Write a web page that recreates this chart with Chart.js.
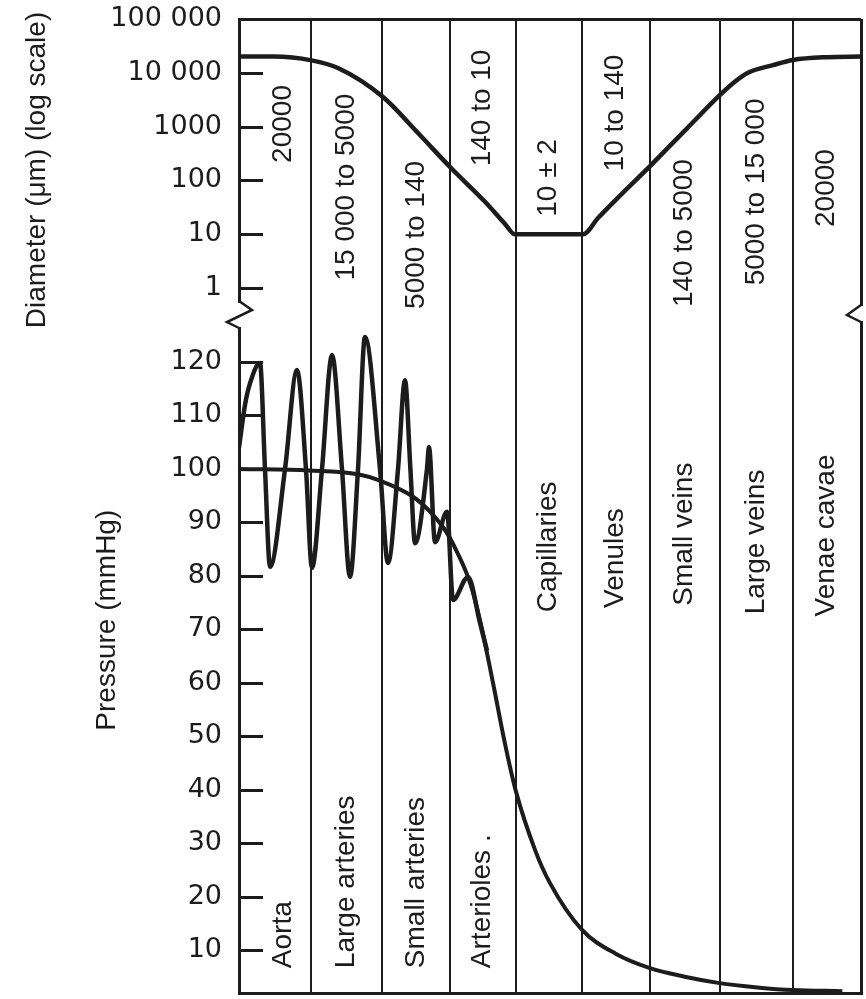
<!DOCTYPE html>
<html>
<head>
<meta charset="utf-8">
<script src="https://cdn.jsdelivr.net/npm/chart.js@4.4.1/dist/chart.umd.min.js"></script>
<style>
  html, body { margin: 0; padding: 0; background: #ffffff; }
  canvas { display: block; }
</style>
</head>
<body>
<canvas id="c" width="866" height="999"></canvas>
<script>
// ---------- data ----------
const vessels = ['Aorta', 'Large arteries', 'Small arteries', 'Arterioles .', 'Capillaries', 'Venules', 'Small veins', 'Large veins', 'Venae cavae'];
const vesselBounds = [0, 1.042, 2.069, 3.053, 4.001, 4.956, 5.947, 6.953, 8.009, 9];
const diameterRanges = ['20000', '15 000 to 5000', '5000 to 140', '140 to 10', '10 ± 2', '10 to 140', '140 to 5000', '5000 to 15 000', '20000'];

const diameterX  = [0, 0.5, 1.05, 1.432, 2.084, 2.590, 3.068, 3.560, 3.849, 3.990, 4.978, 5.195, 5.484, 5.962, 6.497, 6.960, 7.148, 7.365, 7.727, 8.016, 8.5, 9];
const diameterUm = [20000, 20000, 17000, 12300, 3550, 760, 170, 40, 15.5, 10, 10, 20, 48, 193, 970, 3870, 6400, 10000, 13900, 17300, 19500, 20000];

const meanX     = [0, 1.013, 1.722, 2.040, 2.518, 2.764, 3.010, 3.154, 3.343, 3.487, 3.675, 3.85, 4.0, 4.29, 4.5, 4.96, 5.45, 5.947, 6.45, 6.953, 7.5, 8.009, 8.73];
const meanMmHg  = [100, 99.7, 99, 97.8, 94.8, 92, 88, 84.5, 78.7, 71.7, 60, 48.5, 40, 28.5, 22.5, 13.8, 9.3, 6.6, 5.0, 3.8, 3.0, 2.5, 2.3];

const pulseX    = [0, 0.087, 0.159, 0.304, 0.376, 0.449, 0.666, 0.839, 0.969, 1.056, 1.201, 1.346, 1.490, 1.606, 1.722, 1.823, 2.040, 2.156, 2.301, 2.402, 2.48, 2.547, 2.720, 2.749, 2.836, 3.010, 3.097, 3.314, 3.487, 3.589];
const pulseMmHg = [104, 112, 116, 119.8, 100, 81.7, 100, 118.5, 100, 81.5, 100, 121.3, 100, 79.8, 100, 124.7, 100, 82.4, 100, 116.6, 100, 86.1, 100, 104.1, 86.3, 92, 75.5, 79.8, 71.2, 66];

const diameterTicks = [1, 10, 100, 1000, 10000, 100000];
const diameterTickLabels = ['1', '10', '100', '1000', '10 000', '100 000'];
const pressureTicks = [10, 20, 30, 40, 50, 60, 70, 80, 90, 100, 110, 120];

// annotation anchors (in axis units): where each diameter text is centred, where each vessel name starts
const rangeLabelAt = [1120, 75, 9.7, 2220, 111, 1790, 10.5, 61, 72];
const vesselLabelStart = [6.6, 6.6, 6.6, 6.6, 73.2, 74.0, 74.4, 72.8, 72.4];

// ---------- styling ----------
const ink = '#1c1c1c';
const labelFont = '28px "Liberation Sans", Arial, sans-serif';
const tickLen = 24;
const zip = (xs, ys) => xs.map((x, i) => ({ x: x, y: ys[i] }));
const noPad = s => { s.paddingTop = 0; s.paddingBottom = 0; s.paddingLeft = 0; s.paddingRight = 0; };

function vText(ctx, str, x, y, align) {
  ctx.save();
  ctx.translate(x, y);
  ctx.rotate(-Math.PI / 2);
  ctx.textAlign = align;
  ctx.textBaseline = 'middle';
  ctx.fillText(str, 0, 0);
  ctx.restore();
}

const decor = {
  id: 'decor',
  afterDraw(chart) {
    const ctx = chart.ctx;
    const area = chart.chartArea;
    const sx = chart.scales.x, sD = chart.scales.yD, sP = chart.scales.yP;
    ctx.save();
    ctx.strokeStyle = ink;
    ctx.fillStyle = ink;
    ctx.lineCap = 'butt';

    // inward tick marks
    ctx.lineWidth = 3;
    diameterTicks.forEach(v => {
      if (v >= 100000) return;
      const y = Math.round(sD.getPixelForValue(v)) + 0.5;
      ctx.beginPath(); ctx.moveTo(area.left, y); ctx.lineTo(area.left + tickLen, y); ctx.stroke();
    });
    pressureTicks.forEach(v => {
      const y = Math.round(sP.getPixelForValue(v)) + 0.5;
      ctx.beginPath(); ctx.moveTo(area.left, y); ctx.lineTo(area.left + tickLen, y); ctx.stroke();
    });

    // axis breaks
    const yb = sD.bottom;
    ctx.fillStyle = '#ffffff';
    ctx.fillRect(area.left - 3, yb - 12, 6, 24);
    ctx.fillRect(area.right - 3, yb - 9, 6, 15);
    ctx.fillStyle = ink;
    ctx.lineWidth = 2.5;
    ctx.lineJoin = 'miter';
    ctx.beginPath();
    ctx.moveTo(area.left, yb - 14);
    ctx.lineTo(area.left + 13, yb - 5);
    ctx.lineTo(area.left - 12, yb + 7);
    ctx.lineTo(area.left, yb + 13);
    ctx.stroke();
    ctx.beginPath();
    ctx.moveTo(area.right, yb - 10);
    ctx.lineTo(area.right - 14, yb);
    ctx.lineTo(area.right, yb + 7);
    ctx.stroke();

    // texts
    ctx.font = labelFont;
    ctx.fillStyle = ink;
    for (let i = 0; i < vessels.length; i++) {
      let l = sx.getPixelForValue(vesselBounds[i]);
      const r = sx.getPixelForValue(vesselBounds[i + 1]);
      if (i === 0) l += tickLen * 0.66;   // first column: centre in the space right of the tick marks
      const cx = (l + r) / 2;
      vText(ctx, diameterRanges[i], cx, sD.getPixelForValue(rangeLabelAt[i]), 'center');
      vText(ctx, vessels[i], cx, sP.getPixelForValue(vesselLabelStart[i]), 'left');
    }
    // axis titles
    vText(ctx, 'Diameter (\u03bcm) (log scale)', 37, (sD.top + sD.bottom) / 2 + 3, 'center');
    vText(ctx, 'Pressure (mmHg)', 107, sP.getPixelForValue(71.7), 'center');
    ctx.restore();
  }
};

new Chart(document.getElementById('c').getContext('2d'), {
  type: 'line',
  data: {
    datasets: [
      { label: 'Diameter', data: zip(diameterX, diameterUm), yAxisID: 'yD', xAxisID: 'x',
        borderColor: ink, borderWidth: 4.5, pointRadius: 0, fill: false, cubicInterpolationMode: 'monotone' },
      { label: 'Mean pressure', data: zip(meanX, meanMmHg), yAxisID: 'yP', xAxisID: 'x',
        borderColor: ink, borderWidth: 4, pointRadius: 0, fill: false, cubicInterpolationMode: 'monotone' },
      { label: 'Pulsatile pressure', data: zip(pulseX, pulseMmHg), yAxisID: 'yP', xAxisID: 'x',
        borderColor: ink, borderWidth: 4.5, pointRadius: 0, fill: false, cubicInterpolationMode: 'monotone' }
    ]
  },
  options: {
    responsive: false,
    animation: false,
    devicePixelRatio: 1,
    events: [],
    layout: { padding: { left: 0, top: 19, right: 5, bottom: 6 } },
    plugins: { legend: { display: false }, tooltip: { enabled: false } },
    scales: {
      x: {
        type: 'linear', position: 'bottom', min: 0, max: 9, bounds: 'data',
        afterBuildTicks: s => { s.ticks = vesselBounds.map(v => ({ value: v })); },
        afterFit: s => { s.height = 0; noPad(s); },
        ticks: { display: false, autoSkip: false },
        grid: { color: ink, drawTicks: false,
                lineWidth: c => (c.index === 0 || c.index === vesselBounds.length - 1) ? 3 : 2 },
        border: { display: true, color: ink, width: 3 }
      },
      yP: {
        type: 'linear', position: 'left', stack: 'panels', stackWeight: 678,
        min: 1.95, max: 128.8, bounds: 'data',
        afterBuildTicks: s => { s.ticks = pressureTicks.map(v => ({ value: v })); },
        afterFit: s => { s.width = 239; noPad(s); },
        ticks: { color: ink, padding: 17, autoSkip: false, font: { family: 'DejaVu Sans', size: 27 }, callback: v => String(v) },
        grid: { display: false, drawTicks: false },
        border: { display: true, color: ink, width: 3 }
      },
      yD: {
        type: 'logarithmic', position: 'left', stack: 'panels', stackWeight: 296,
        min: 0.315, max: 100000, bounds: 'data',
        afterBuildTicks: s => { s.ticks = diameterTicks.map(v => ({ value: v })); },
        afterFit: s => { s.width = 239; noPad(s); },
        ticks: { color: ink, padding: 17, autoSkip: false, font: { family: 'DejaVu Sans', size: 27 },
                 callback: v => diameterTickLabels[diameterTicks.indexOf(v)] },
        grid: { drawTicks: false, lineWidth: 3,
                color: c => (c.tick && c.tick.value === 100000) ? ink : 'rgba(0,0,0,0)' },
        border: { display: true, color: ink, width: 3 }
      }
    }
  },
  plugins: [decor]
});
</script>
</body>
</html>
